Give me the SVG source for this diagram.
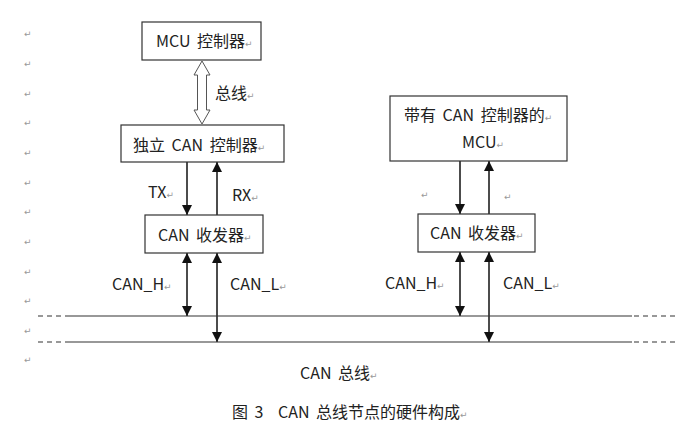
<svg xmlns="http://www.w3.org/2000/svg" width="690" height="437" viewBox="0 0 690 437">
<style>
.box{fill:#fff;stroke:#333;stroke-width:1.2}
.t{font-family:"Noto Sans CJK SC","Noto Sans",sans-serif;font-size:16px;fill:#222;word-spacing:3px}
.pm{font-family:"DejaVu Sans",sans-serif;font-size:9px;fill:#999}
.ln{stroke:#111;stroke-width:1.5;fill:none}
.bus{stroke:#333;stroke-width:1.2;fill:none}
.dash{stroke:#333;stroke-width:1.2;stroke-dasharray:5,4;fill:none}
</style>
<defs>
<marker id="ah" markerWidth="10" markerHeight="10" viewBox="0 0 10 10" refX="10" refY="5" orient="auto-start-reverse" markerUnits="userSpaceOnUse">
<path d="M0,0 L10,5 L0,10 z" fill="#111"/>
</marker>
</defs>
<g id="para-marks" class="pm">
<text x="24" y="37">↵</text><text x="24" y="67">↵</text><text x="24" y="97">↵</text><text x="24" y="126">↵</text><text x="24" y="156">↵</text><text x="24" y="186">↵</text><text x="24" y="215">↵</text><text x="24" y="245">↵</text><text x="24" y="275">↵</text><text x="24" y="304">↵</text><text x="24" y="334">↵</text><text x="24" y="363">↵</text>
<text x="421" y="198">↵</text><text x="504" y="200">↵</text>
</g>
<g id="connectors">
<polygon points="202,61 210,75 206.5,75 206.5,110 210,110 202,124 194,110 197.5,110 197.5,75 194,75" fill="#fff" stroke="#555" stroke-width="1"/>
<line class="ln" x1="187" y1="162" x2="187" y2="215" marker-end="url(#ah)"/>
<line class="ln" x1="217" y1="215" x2="217" y2="162" marker-end="url(#ah)"/>
<line class="ln" x1="187" y1="253" x2="187" y2="316" marker-start="url(#ah)" marker-end="url(#ah)"/>
<line class="ln" x1="217" y1="253" x2="217" y2="342" marker-start="url(#ah)" marker-end="url(#ah)"/>
<line class="ln" x1="460" y1="161" x2="460" y2="214" marker-end="url(#ah)"/>
<line class="ln" x1="489" y1="214" x2="489" y2="161" marker-end="url(#ah)"/>
<line class="ln" x1="460" y1="252" x2="460" y2="316" marker-start="url(#ah)" marker-end="url(#ah)"/>
<line class="ln" x1="489" y1="252" x2="489" y2="342" marker-start="url(#ah)" marker-end="url(#ah)"/>
</g>
<g id="bus">
<line class="bus" x1="68" y1="316" x2="632" y2="316"/>
<line class="bus" x1="68" y1="342" x2="632" y2="342"/>
<line class="dash" x1="38" y1="316" x2="68" y2="316"/>
<line class="dash" x1="38" y1="342" x2="68" y2="342"/>
<line class="dash" x1="634" y1="316" x2="676" y2="316"/>
<line class="dash" x1="634" y1="342" x2="676" y2="342"/>
</g>
<g id="mcu">
<rect class="box" x="142" y="22" width="119" height="38"/>
<text class="t" x="156" y="47">MCU 控制器<tspan class="pm">↵</tspan></text>
</g>
<g id="can-ctrl">
<rect class="box" x="121" y="125" width="163" height="37"/>
<text class="t" x="133" y="151">独立 CAN 控制器<tspan class="pm">↵</tspan></text>
</g>
<g id="transceiver-left">
<rect class="box" x="145" y="215" width="118" height="38"/>
<text class="t" x="158" y="241">CAN 收发器<tspan class="pm">↵</tspan></text>
</g>
<g id="mcu-can">
<rect class="box" x="390" y="96" width="177" height="65"/>
<text class="t" x="404" y="121">带有 CAN 控制器的<tspan class="pm">↵</tspan></text>
<text class="t" x="462" y="148">MCU<tspan class="pm">↵</tspan></text>
</g>
<g id="transceiver-right">
<rect class="box" x="418" y="214" width="117" height="38"/>
<text class="t" x="430" y="239">CAN 收发器<tspan class="pm">↵</tspan></text>
</g>
<g id="labels">
<text class="t" x="215" y="99">总线<tspan class="pm">↵</tspan></text>
<text class="t" x="148" y="198">TX<tspan class="pm">↵</tspan></text>
<text class="t" x="232" y="201">RX<tspan class="pm">↵</tspan></text>
<text class="t" x="112" y="290">CAN_H<tspan class="pm">↵</tspan></text>
<text class="t" x="230" y="290">CAN_L<tspan class="pm">↵</tspan></text>
<text class="t" x="385" y="289">CAN_H<tspan class="pm">↵</tspan></text>
<text class="t" x="503" y="289">CAN_L<tspan class="pm">↵</tspan></text>
<text class="t" x="300" y="379">CAN 总线<tspan class="pm">↵</tspan></text>
<text class="t" x="232" y="418">图 3<tspan x="278">CAN 总线节点的硬件构成</tspan><tspan class="pm">↵</tspan></text>
</g>
</svg>
